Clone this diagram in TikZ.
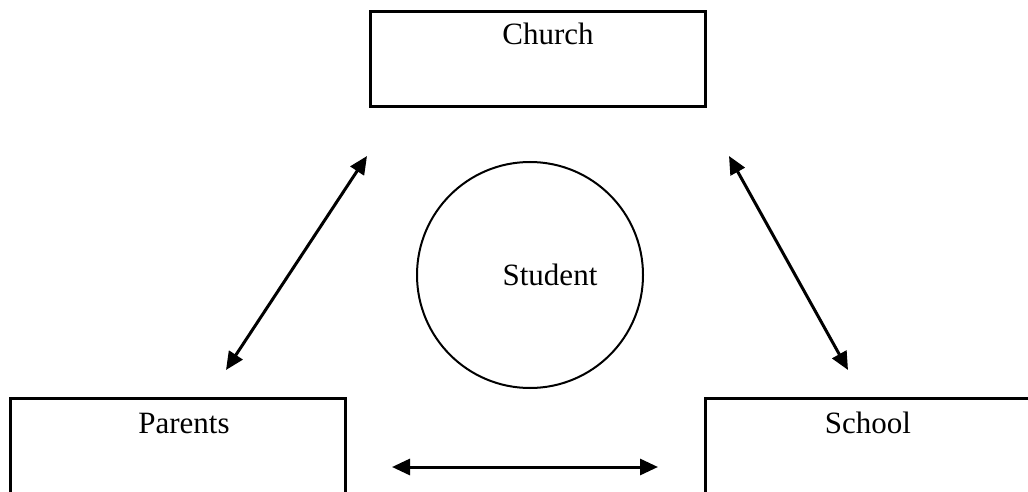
\documentclass[tikz,border=0pt]{standalone}
\usepackage{fontspec}
\setmainfont{Liberation Serif}
\usetikzlibrary{arrows.meta}
\begin{document}
\begin{tikzpicture}[x=1pt,y=-1pt,
  box/.style={draw,line width=2.6pt,rectangle,inner sep=0pt,anchor=north west},
  lbl/.style={anchor=base,inner sep=0pt,font=\fontsize{31}{37}\selectfont},
  link/.style={line width=3pt,{Triangle[length=18pt,width=16pt]}-{Triangle[length=18pt,width=16pt]}}]
\useasboundingbox (0,0) rectangle (1028,492);
\clip (0,0) rectangle (1028,492);
\node[box,minimum width=335pt,minimum height=95pt] (church) at (369,10) {};
\node[box,minimum width=335pt,minimum height=110pt] (parents) at (9,397) {};
\node[box,minimum width=340pt,minimum height=110pt] (school) at (704,397) {};
\node[draw,circle,line width=2pt,minimum size=226pt,inner sep=0pt] (student) at (530,275) {};
\node[lbl] (tchurch) at (548,45) {Church};
\node[lbl] (tparents) at (184,433) {Parents};
\node[lbl] (tschool) at (868,433) {School};
\node[lbl] (tstudent) at (550,285) {Student};
\coordinate (a1) at (367,156);
\coordinate (a2) at (226,370);
\coordinate (b1) at (729,156);
\coordinate (b2) at (848,370);
\coordinate (c1) at (392,467);
\coordinate (c2) at (658,467);
\draw[link] (a1) -- (a2);
\draw[link] (b1) -- (b2);
\draw[link] (c1) -- (c2);
\end{tikzpicture}
\end{document}
